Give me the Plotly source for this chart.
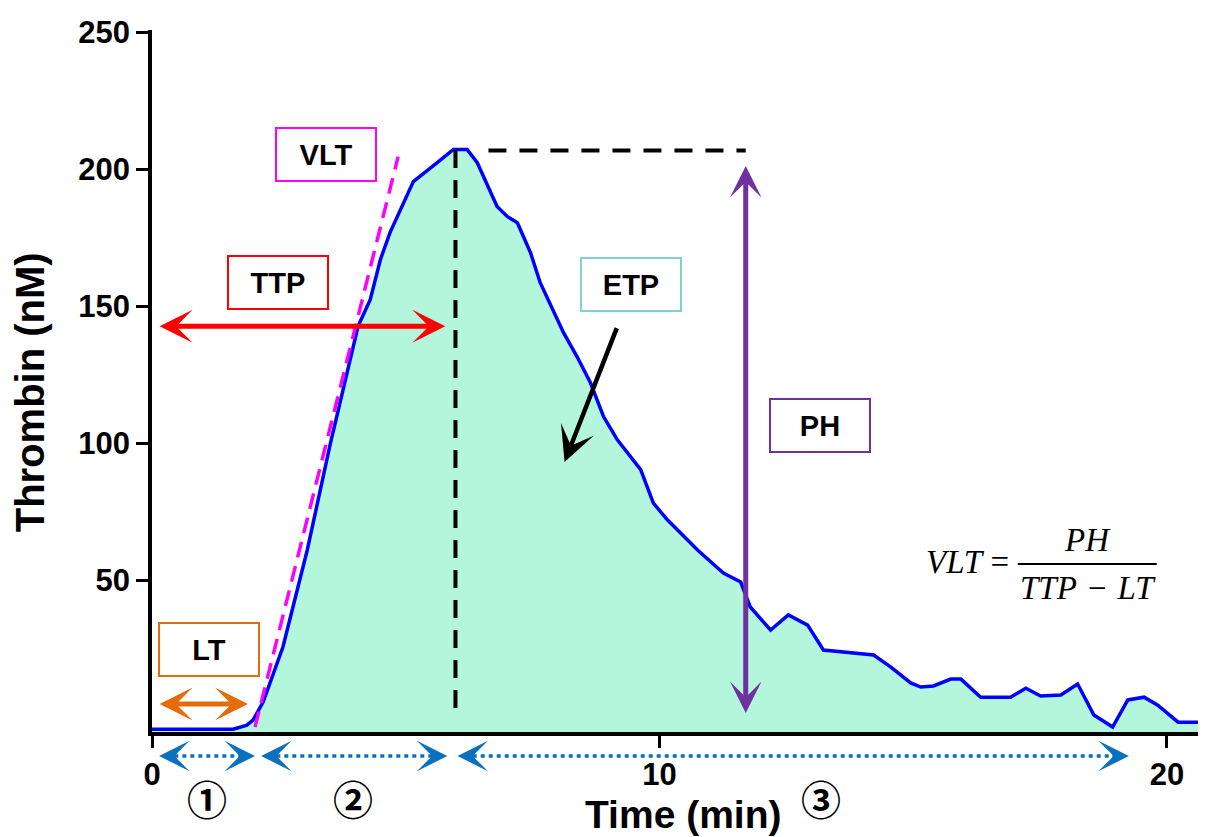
import plotly.graph_objects as go

# ---------------- data ----------------
time_min = [0.00, 1.60, 1.87, 1.99, 2.19, 2.58, 3.06, 3.51, 3.96, 4.06, 4.30, 4.50,
            4.69, 4.93, 5.15, 5.62, 5.94, 6.21, 6.41, 6.80, 7.00, 7.20, 7.46, 7.65,
            7.85, 8.11, 8.38, 8.64, 8.90, 9.17, 9.63, 9.88, 10.16, 10.75, 11.26,
            11.60, 11.79, 12.19, 12.54, 12.92, 13.23, 13.57, 14.22, 14.56, 14.95,
            15.15, 15.40, 15.74, 15.94, 16.33, 16.92, 17.22, 17.51, 17.91, 18.24,
            18.56, 18.93, 19.23, 19.55, 19.82, 20.22, 20.77]
thrombin_nM = [-4.3, -4.3, -2.8, -1.0, 5.6, 25.7, 61.1, 99.5, 134.8, 142.7, 152.4, 167.0,
               176.9, 186.4, 195.5, 202.4, 207.2, 207.2, 202.4, 186.4, 182.8, 180.5, 169.5, 158.6,
               150.5, 140.4, 131.5, 122.1, 109.7, 101.3, 90.4, 78.2, 72.0, 61.1, 52.7,
               49.4, 40.3, 31.9, 37.4, 33.7, 24.6, 23.9, 22.8, 18.4, 12.6,
               11.1, 11.5, 14.0, 14.0, 7.4, 7.4, 10.7, 7.8, 8.2, 12.2,
               0.9, -3.5, 6.4, 7.4, 4.5, -1.7, -1.7]

x_tick_vals = [0, 10, 20]
y_tick_vals = [50, 100, 150, 200, 250]
x_range = [0, 20.77]
y_range = [-5.3, 250.8]

# key parameters of the thrombin generation curve
lt_min = 1.89          # lag time end
ttp_min = 5.78         # time to peak (arrow head)
peak_time = 5.98       # vertical dashed line
peak_height = 207.0
ph_time = 11.70
ph_bottom = 1.6
ph_top = 201.7
ttp_level = 142.7
lt_level = 4.9
vlt_start = (2.03, -3.5)
vlt_end = (4.85, 204.6)
etp_tail = (9.17, 142.6)
etp_head = (8.13, 93.2)
phase_segments = [(0.14, 2.03), (2.15, 5.82), (6.02, 19.25)]
phase_labels = ["\u2460", "\u2461", "\u2462"]
phase_label_x = [1.085, 3.96, 13.18]

box_labels = ["VLT", "TTP", "LT", "ETP", "PH"]
box_x = [3.43, 2.475, 1.124, 9.43, 13.16]
box_y = [205.4, 158.6, 24.8, 158.1, 106.6]
box_colors = ["#FF00FF", "#FF0000", "#E46C0A", "#7FD3CC", "#7030A0"]

SANS = "Liberation Sans, Arial, sans-serif"
SERIF = "Liberation Serif, Times New Roman, serif"

baseline = [y_range[0]] * len(time_min)

fig = go.Figure()
fig.add_trace(go.Scatter(x=time_min, y=baseline, mode="lines",
                         line=dict(width=0, color="rgba(0,0,0,0)"),
                         hoverinfo="skip", showlegend=False))
fig.add_trace(go.Scatter(x=time_min, y=thrombin_nM, mode="lines",
                         line=dict(color="#0000FF", width=3.5),
                         fill="tonexty", fillcolor="#B4F6DC",
                         hoverinfo="skip", showlegend=False))

shapes = []
# VLT tangent (magenta dashed)
shapes.append(dict(type="line", xref="x", yref="y",
                   x0=vlt_start[0], y0=vlt_start[1], x1=vlt_end[0], y1=vlt_end[1],
                   line=dict(color="#FF00FF", width=3.5, dash="16px,9px")))
# vertical dashed at peak
shapes.append(dict(type="line", xref="x", yref="y",
                   x0=peak_time, y0=peak_height, x1=peak_time, y1=0.9,
                   line=dict(color="black", width=4, dash="18px,12px")))
# horizontal dashed at peak height
shapes.append(dict(type="line", xref="x", yref="y",
                   x0=6.63, y0=206.8, x1=ph_time, y1=206.8,
                   line=dict(color="black", width=4, dash="18px,13px")))
# fraction bar of the formula
shapes.append(dict(type="line", xref="x", yref="y",
                   x0=17.06, y0=56.0, x1=19.80, y1=56.0,
                   line=dict(color="black", width=2)))

PHASE_Y = -0.0342
for (a, b) in phase_segments:
    shapes.append(dict(type="line", xref="x", yref="paper",
                       x0=a + 0.3, y0=PHASE_Y, x1=b - 0.3, y1=PHASE_Y,
                       line=dict(color="#0A70C0", width=3.5, dash="4px,4px")))

annotations = []
# boxes
for lab, bx, by, col in zip(box_labels, box_x, box_y, box_colors):
    annotations.append(dict(x=bx, y=by, xref="x", yref="y", text=lab, showarrow=False,
                            font=dict(family=SANS, size=29, color="black", weight="bold"),
                            bgcolor="white", bordercolor=col, borderwidth=2, borderpad=0,
                            width=98, height=51, xanchor="center", yanchor="middle"))

# double arrows
def double_arrow(x0, y0, x1, y1, color, width, size):
    return dict(x=x1, y=y1, ax=x0, ay=y0, xref="x", yref="y", axref="x", ayref="y",
                text="", showarrow=True, arrowhead=3, startarrowhead=3,
                arrowside="end+start", arrowcolor=color, arrowwidth=width,
                arrowsize=size, startarrowsize=size, standoff=0, startstandoff=0)

annotations.append(double_arrow(0.12, lt_level, lt_min, lt_level, "#E46C0A", 5, 1.1))
annotations.append(double_arrow(0.12, ttp_level, ttp_min, ttp_level, "#FF0000", 5, 1.1))
annotations.append(double_arrow(ph_time, ph_top, ph_time, ph_bottom, "#7030A0", 5, 1.05))
# ETP arrow
annotations.append(dict(x=etp_head[0], y=etp_head[1], ax=etp_tail[0], ay=etp_tail[1],
                        xref="x", yref="y", axref="x", ayref="y", text="", showarrow=True,
                        arrowhead=3, arrowcolor="black", arrowwidth=4.5, arrowsize=1.3,
                        standoff=0))

# blue dotted phase arrow heads
for (a, b) in phase_segments:
    annotations.append(dict(x=b, y=PHASE_Y, xref="x", yref="paper", ax=b - 0.35, ay=0,
                            axref="x", ayref="pixel", text="", showarrow=True,
                            arrowhead=3, arrowcolor="#0A70C0", arrowwidth=3.5,
                            arrowsize=1.45, standoff=0))
    annotations.append(dict(x=a, y=PHASE_Y, xref="x", yref="paper", ax=a + 0.35, ay=0,
                            axref="x", ayref="pixel", text="", showarrow=True,
                            arrowhead=3, arrowcolor="#0A70C0", arrowwidth=3.5,
                            arrowsize=1.45, standoff=0))

# circled phase numbers
for lab, px in zip(phase_labels, phase_label_x):
    annotations.append(dict(x=px, y=-0.094, xref="x", yref="paper", text=lab,
                            showarrow=False, xanchor="center", yanchor="middle",
                            font=dict(family="Noto Sans CJK JP", size=40, color="black",
                                      weight="bold")))

# formula
annotations.append(dict(x=16.92, y=56.8, xref="x", yref="y", text="<i>VLT</i> =",
                        showarrow=False, xanchor="right", yanchor="middle",
                        font=dict(family=SERIF, size=33, color="black")))
annotations.append(dict(x=18.43, y=64.8, xref="x", yref="y", text="<i>PH</i>",
                        showarrow=False, xanchor="center", yanchor="middle",
                        font=dict(family=SERIF, size=33, color="black")))
annotations.append(dict(x=18.44, y=47.2, xref="x", yref="y",
                        text="<i>TTP</i>\u2004\u2212\u2004<i>LT</i>",
                        showarrow=False, xanchor="center", yanchor="middle",
                        font=dict(family=SERIF, size=33, color="black")))

# axis titles
annotations.append(dict(x=0.504, y=-0.117, xref="paper", yref="paper", text="Time (min)",
                        showarrow=False, xanchor="center", yanchor="middle",
                        font=dict(family=SANS, size=39, color="black", weight="bold")))
annotations.append(dict(x=-0.1157, y=0.484, xref="paper", yref="paper", text="Thrombin (nM)",
                        showarrow=False, xanchor="center", yanchor="middle", textangle=-90,
                        font=dict(family=SANS, size=40, color="black", weight="bold")))

# the page adds an 8 px body margin, so the figure is 8 px smaller on each side
fig.update_layout(
    width=1198, height=829,
    margin=dict(l=144, r=0, t=22, b=105, pad=0),
    paper_bgcolor="white", plot_bgcolor="white",
    showlegend=False,
    shapes=shapes, annotations=annotations,
    xaxis=dict(range=x_range, tickvals=x_tick_vals, ticks="outside", ticklen=12,
               tickwidth=3, tickcolor="black", showline=True, linecolor="black",
               linewidth=3.5, showgrid=False, zeroline=False,
               tickfont=dict(family=SANS, size=31, color="black", weight="bold")),
    yaxis=dict(range=y_range, tickvals=y_tick_vals, ticks="outside", ticklen=12,
               tickwidth=3, tickcolor="black", showline=True, linecolor="black",
               linewidth=3.5, showgrid=False, zeroline=False,
               tickfont=dict(family=SANS, size=31, color="black", weight="bold")),
)

fig.write_html("out.html")
